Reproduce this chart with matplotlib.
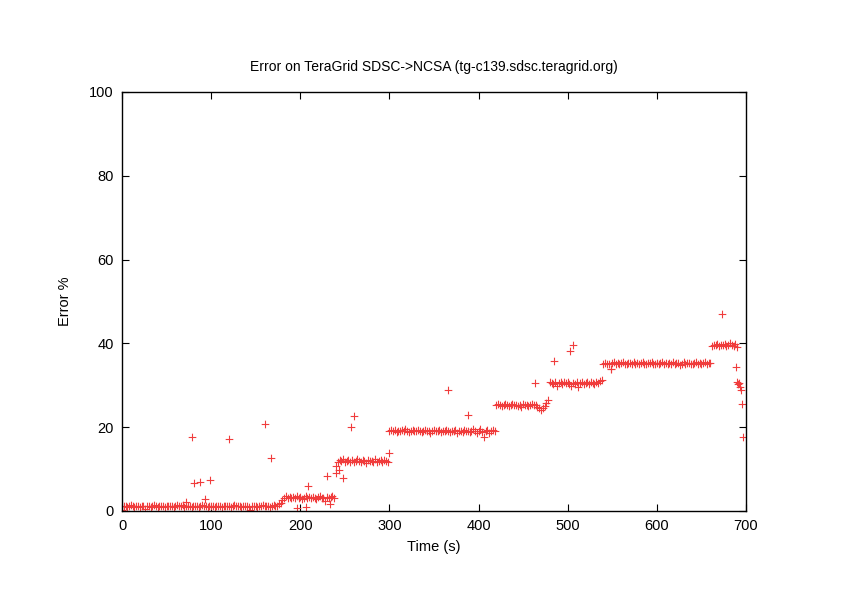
import numpy as np
import matplotlib
matplotlib.use("Agg")
import matplotlib.pyplot as plt

plt.rcParams['font.family'] = ['Liberation Sans', 'DejaVu Sans']

# Dense plateau segments (sampled every 2 s)
t_a = np.arange(0, 180, 2)
e_a = [0.2, 1.1, 1.3, 1.0, 1.2, 1.4, 1.1, 0.9, 1.2, 1.3,
       1.0, 1.2, 1.1, 0.4, 1.3, 1.2, 1.0, 1.1, 1.4, 1.2,
       0.9, 1.1, 1.3, 1.2, 1.0, 1.2, 1.1, 1.3, 1.2, 1.0,
       1.1, 1.4, 1.2, 1.1, 1.5, 1.0, 1.3, 1.2, 1.1, 0.9,
       1.2, 1.3, 1.1, 1.0, 1.2, 1.4, 1.1, 1.2, 1.0, 1.3,
       1.2, 1.1, 0.9, 1.2, 1.3, 1.1, 1.0, 1.2, 1.1, 1.3,
       1.2, 1.0, 1.1, 1.4, 1.2, 1.1, 1.3, 1.0, 1.2, 1.1,
       1.2, 1.0, 0.3, 1.1, 1.2, 1.3, 1.0, 1.2, 1.1, 1.4,
       1.2, 1.1, 1.3, 1.0, 1.2, 1.5, 1.1, 1.2, 1.6, 2.0]

t_b = np.arange(180, 240, 2)
e_b = [2.6, 3.2, 3.5, 3.1, 3.3, 3.0, 3.4, 3.2, 3.6, 3.1,
       3.3, 2.9, 3.2, 3.5, 3.0, 3.3, 3.1, 3.4, 3.2, 2.8,
       3.3, 3.5, 3.1, 3.2, 2.4, 3.4, 3.0, 3.3, 3.6, 3.2]

t_c = np.arange(240, 300, 2)
e_c = [10.8, 11.8, 12.1, 11.9, 12.3, 11.7, 12.0, 12.2, 11.8, 12.1,
       11.6, 12.0, 12.4, 11.9, 11.7, 12.1, 12.0, 11.5, 12.2, 11.9,
       12.0, 11.8, 12.3, 11.6, 12.0, 12.1, 11.8, 12.2, 11.9, 11.7]

t_d = np.arange(300, 420, 2)
e_d = [19.0, 19.3, 19.1, 19.4, 18.9, 19.2, 19.0, 19.3, 19.1, 19.5,
       19.2, 18.8, 19.1, 19.3, 19.0, 19.2, 19.4, 19.1, 18.9, 19.2,
       19.3, 19.0, 19.1, 18.7, 19.2, 19.4, 19.0, 19.1, 19.3, 18.9,
       19.2, 19.0, 19.4, 19.1, 18.8, 19.2, 19.0, 19.3, 18.6, 19.1,
       19.2, 18.9, 19.4, 19.0, 19.2, 18.8, 19.1, 19.5, 19.0, 18.7,
       19.2, 19.6, 18.9, 17.6, 19.1, 19.3, 18.5, 19.0, 19.4, 19.2]

t_e = np.arange(420, 480, 2)
e_e = [25.2, 25.5, 25.3, 25.1, 25.4, 25.6, 25.2, 25.0, 25.3, 25.5,
       25.2, 25.4, 25.1, 25.3, 24.9, 25.5, 25.2, 25.4, 25.1, 25.3,
       25.6, 25.2, 25.4, 24.8, 24.5, 24.2, 24.6, 25.0, 25.8, 26.4]

t_f = np.arange(480, 540, 2)
e_f = [30.8, 30.5, 30.2, 30.7, 29.8, 30.6, 30.9, 30.4, 30.7, 30.5,
       30.8, 30.3, 29.9, 30.6, 30.4, 30.7, 29.7, 30.5, 30.8, 30.3,
       30.6, 30.9, 30.4, 30.7, 30.5, 30.2, 30.8, 30.6, 31.0, 31.2]

t_g = np.arange(540, 662, 2)
e_g = [35.1, 35.4, 35.2, 35.0, 34.0, 35.3, 35.5, 35.2, 35.4, 35.1,
       35.3, 35.6, 35.2, 35.0, 35.4, 35.3, 35.1, 35.5, 35.2, 35.4,
       35.0, 35.3, 35.6, 35.2, 35.1, 35.4, 35.3, 35.5, 35.0, 35.2,
       35.4, 35.1, 35.3, 35.6, 35.2, 35.4, 35.0, 35.3, 35.1, 35.5,
       35.2, 35.4, 35.3, 34.9, 35.2, 35.5, 35.1, 35.3, 35.4, 35.2,
       35.0, 35.3, 35.5, 35.2, 35.4, 35.1, 35.3, 35.6, 35.2, 35.4, 35.3]

t_h = np.arange(662, 692, 2)
e_h = [39.4, 39.7, 39.5, 39.8, 39.3, 39.6, 39.5, 39.9, 39.4, 39.6,
       40.2, 39.5, 39.3, 39.8, 39.1]

# Isolated outlier points
t_out = [72, 78, 81, 87, 93, 99, 120, 160, 167, 196, 206, 209, 230, 233,
         240, 243, 248, 257, 260, 300, 366, 388, 463, 485, 503, 506, 549,
         673, 689, 690, 691, 692, 693, 694, 696, 697]
e_out = [2.2, 17.6, 6.6, 7.0, 2.8, 7.4, 17.3, 20.8, 12.7, 0.8, 1.0, 5.9, 8.4, 1.7,
         9.1, 9.8, 7.9, 20.0, 22.7, 13.8, 28.9, 22.8, 30.5, 35.9, 38.3, 39.5, 33.9,
         47.0, 34.4, 30.9, 30.2, 30.6, 29.6, 28.9, 25.5, 17.7]

x_ticks = [0, 100, 200, 300, 400, 500, 600, 700]
y_ticks = [0, 20, 40, 60, 80, 100]

time = np.concatenate([t_a, t_b, t_c, t_d, t_e, t_f, t_g, t_h,
                       np.array(t_out, dtype=float)]).astype(float)
err = np.concatenate([e_a, e_b, e_c, e_d, e_e, e_f, e_g, e_h,
                      e_out]).astype(float)

fig = plt.figure(figsize=(8.42, 5.95), dpi=100)
ax = fig.add_axes([122/842, 1-511/595, 624/842, 419/595])
ax.scatter(time, err, marker='+', color='#f03c3c', s=30, linewidths=0.8,
           snap=False, zorder=3)

ax.set_xlim(0, 700)
ax.set_ylim(0, 100)
ax.set_xticks(x_ticks)
ax.set_yticks(y_ticks)
ax.tick_params(direction='in', top=True, right=True, length=5, width=0.8,
               labelsize=10.5, pad=6)
for s in ax.spines.values():
    s.set_linewidth(1.0)
    s.set_color('black')
    s.set_zorder(4)

ax.set_title('Error on TeraGrid SDSC->NCSA (tg-c139.sdsc.teragrid.org)',
             fontsize=10, pad=15)
ax.set_xlabel('Time (s)', fontsize=10.5, labelpad=5)
ax.set_ylabel('Error %', fontsize=10.5, labelpad=12)

fig.savefig('out.png', dpi=100)
